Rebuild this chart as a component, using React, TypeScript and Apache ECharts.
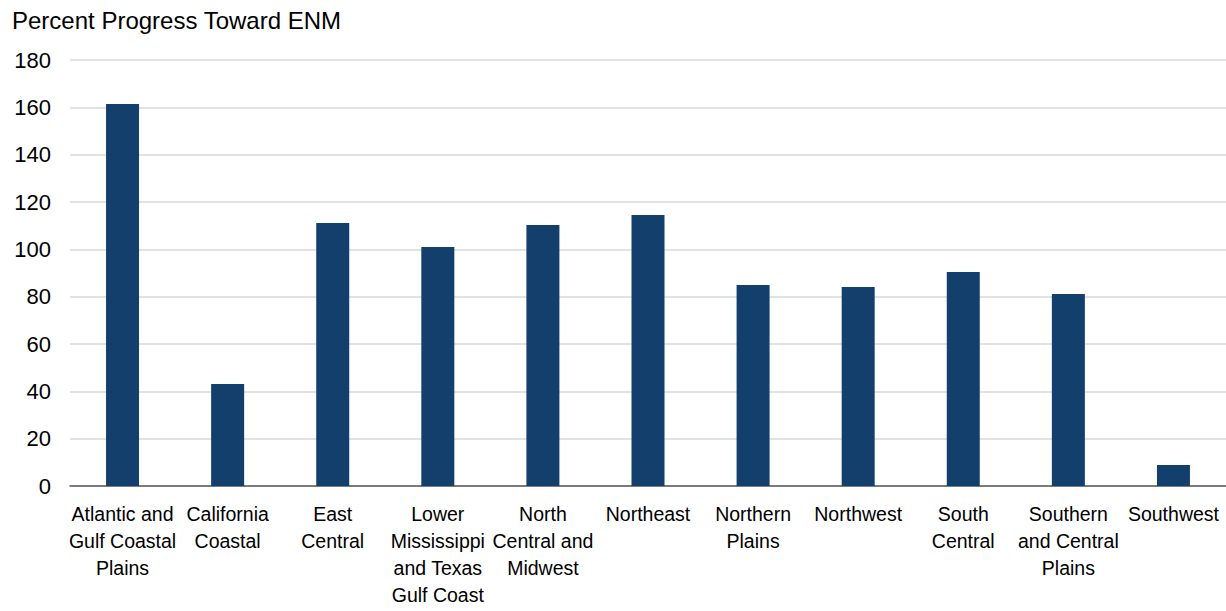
import React, { useEffect, useRef } from "react";
import * as echarts from "echarts";

const categories = [
  "Atlantic and\nGulf Coastal\nPlains",
  "California\nCoastal",
  "East\nCentral",
  "Lower\nMississippi\nand Texas\nGulf Coast",
  "North\nCentral and\nMidwest",
  "Northeast",
  "Northern\nPlains",
  "Northwest",
  "South\nCentral",
  "Southern\nand Central\nPlains",
  "Southwest",
];
const values = [161.4, 43.1, 111.1, 101, 110.3, 114.5, 84.9, 84.1, 90.4, 81.1, 8.9];
const yTicks = { min: 0, max: 180, interval: 20 };
const titleText = "Percent Progress Toward ENM";

export default function App() {
  const ref = useRef<HTMLDivElement>(null);
  useEffect(() => {
    if (!ref.current) return;
    const chart = echarts.init(ref.current, null, { renderer: "svg" });
    chart.setOption({
      animation: false,
      backgroundColor: "#ffffff",
      title: {
        text: titleText,
        left: 7,
        top: 3,
        textStyle: {
          fontFamily: "Liberation Sans, Arial, sans-serif",
          fontSize: 24,
          fontWeight: "normal",
          color: "#000000",
        },
      },
      grid: { left: 70, right: 0, top: 60, bottom: 125, containLabel: false },
      xAxis: {
        type: "category",
        data: categories,
        axisLine: { lineStyle: { color: "#595959", width: 1.5 } },
        axisTick: { show: false },
        axisLabel: {
          interval: 0,
          margin: 14,
          fontFamily: "Liberation Sans, Arial, sans-serif",
          fontSize: 19.5,
          lineHeight: 27,
          color: "#000000",
        },
      },
      yAxis: {
        type: "value",
        min: yTicks.min,
        max: yTicks.max,
        interval: yTicks.interval,
        axisLine: { show: false },
        axisTick: { show: false },
        splitLine: { lineStyle: { color: "#d9d9d9", width: 1.5 } },
        axisLabel: {
          margin: 19,
          fontFamily: "Liberation Sans, Arial, sans-serif",
          fontSize: 22,
          color: "#000000",
        },
      },
      series: [
        {
          type: "bar",
          data: values,
          barWidth: 33,
          itemStyle: { color: "#133F6D" },
        },
      ],
    });
    return () => chart.dispose();
  }, []);
  return (
    <div
      ref={ref}
      style={{ position: "fixed", left: 0, top: 0, width: 1226, height: 611 }}
    />
  );
}
